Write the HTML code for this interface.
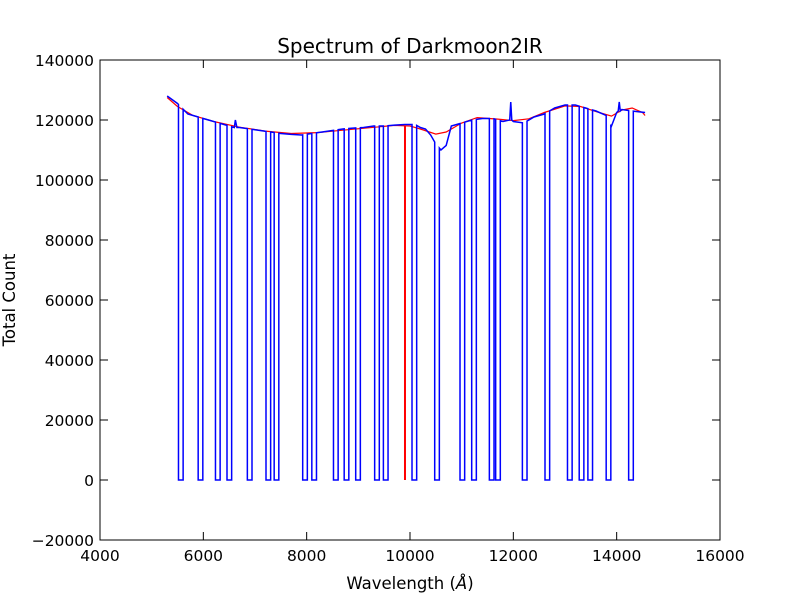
<!DOCTYPE html>
<html><head><meta charset="utf-8"><style>
body{margin:0;background:#fff;}
svg text{font-family:"DejaVu Sans","Liberation Sans",sans-serif;}
</style></head><body>
<svg id="chart" width="800" height="600" viewBox="0 0 800 600" xmlns="http://www.w3.org/2000/svg">
<rect width="800" height="600" fill="#fff"/>
<text x="410" y="53" font-size="20" text-anchor="middle">Spectrum of Darkmoon2IR</text>
<g id="plot"></g>
<g id="axes"></g>
<text x="410" y="589" font-size="16.5" text-anchor="middle">Wavelength (<tspan font-style="italic">Å</tspan>)</text>
<text transform="translate(15,300) rotate(-90)" font-size="16.5" text-anchor="middle">Total Count</text>
</svg>
<script>
const specWave=[5300,5500,5700,5900,6100,6300,6500,6600,6620,6650,6700,6900,7100,7300,7500,7700,7900,8100,8300,8500,8700,8900,9100,9300,9500,9700,9900,10100,10200,10300,10400,10500,10600,10700,10800,11000,11200,11400,11600,11800,11930,11950,11970,12000,12200,12400,12600,12800,13000,13200,13400,13600,13800,13900,14000,14030,14050,14070,14100,14300,14550];
const specFlux=[128000,125500,122000,121000,120000,119000,118000,117500,120000,117500,117500,117000,116500,116000,115500,115200,115000,115500,116000,116500,117000,117300,117500,118000,118000,118300,118500,118500,117500,117000,115000,112000,110000,111500,118000,119000,120000,120500,120500,119500,120000,126000,120000,119500,119000,121000,122000,124000,125000,125000,124000,123000,121500,118000,122500,123000,126000,123000,123500,123000,122500];
const fitWave=[5300,5500,5800,6200,6700,7200,7700,8200,8700,9200,9700,10000,10200,10500,10700,11000,11300,11700,12000,12300,12600,13000,13300,13600,13900,14100,14300,14500,14550];
const fitFlux=[127500,124500,121500,119500,117600,116300,115500,115800,116600,117400,118200,118000,117000,115300,116000,119000,120800,120300,119800,120400,122500,124700,124500,122800,121300,123300,124000,122500,121500];
const dipCenters=[5564,5945,6280,6503,6897,7258,7416,7968,8145,8564,8771,8994,9361,9530,10084,10523,11013,11239,11581,11703,12220,12658,13093,13320,13488,13842,14277];
const redLineWave=9903;
const xTicks=[4000,6000,8000,10000,12000,14000,16000];
const yTicks=[-20000,0,20000,40000,60000,80000,100000,120000,140000];
const DIPW=90;
const L=100,R=720,T=60,B=540;
const X=v=>L+(v-4000)/12000*(R-L);
const Y=v=>B-(v+20000)/160000*(B-T);
const NS="http://www.w3.org/2000/svg";
function interp(ws,fs,w){for(let i=0;i<ws.length-1;i++){if(w>=ws[i]&&w<=ws[i+1]){return fs[i]+(fs[i+1]-fs[i])*(w-ws[i])/(ws[i+1]-ws[i]);}}return fs[fs.length-1];}
const plot=document.getElementById('plot');
let events=[];
dipCenters.forEach(c=>{events.push(c-DIPW/2);events.push(c+DIPW/2);});
let allW=specWave.concat(events).sort((a,b)=>a-b);
let inDip=w=>dipCenters.some(c=>w>c-DIPW/2+0.01&&w<c+DIPW/2-0.01);
let d="";
allW.forEach((w,i)=>{
  const v=interp(specWave,specFlux,w);
  const isStart=dipCenters.some(c=>Math.abs(w-(c-DIPW/2))<0.001);
  const isEnd=dipCenters.some(c=>Math.abs(w-(c+DIPW/2))<0.001);
  if(inDip(w))return;
  if(isStart){d+=(d?"L":"M")+X(w).toFixed(2)+","+Y(v).toFixed(2)+"L"+X(w).toFixed(2)+","+Y(0).toFixed(2);}
  else if(isEnd){d+="L"+X(w).toFixed(2)+","+Y(0).toFixed(2)+"L"+X(w).toFixed(2)+","+Y(v).toFixed(2);}
  else{d+=(d?"L":"M")+X(w).toFixed(2)+","+Y(v).toFixed(2);}
});
let fd="";fitWave.forEach((w,i)=>{fd+=(i?"L":"M")+X(w).toFixed(2)+","+Y(fitFlux[i]).toFixed(2);});
const fit=document.createElementNS(NS,'path');
fit.setAttribute('d',fd);fit.setAttribute('fill','none');fit.setAttribute('stroke','#f00');fit.setAttribute('stroke-width','1.2');


plot.appendChild(fit);
const rl=document.createElementNS(NS,'line');
rl.setAttribute('x1',X(redLineWave));rl.setAttribute('x2',X(redLineWave));rl.setAttribute('y1',Y(0));rl.setAttribute('y2',Y(interp(fitWave,fitFlux,redLineWave)));
rl.setAttribute('stroke','#f00');rl.setAttribute('stroke-width','2');


plot.appendChild(rl);
const sp=document.createElementNS(NS,'path');
sp.setAttribute('d',d);sp.setAttribute('fill','none');sp.setAttribute('stroke','#00f');sp.setAttribute('stroke-width','1.5');


plot.appendChild(sp);
const ax=document.getElementById('axes');
const fr=document.createElementNS(NS,'rect');
fr.setAttribute('x',L);fr.setAttribute('y',T);fr.setAttribute('width',R-L);fr.setAttribute('height',B-T);fr.setAttribute('fill','none');fr.setAttribute('stroke','#000');


ax.appendChild(fr);
function ln(x1,y1,x2,y2){const l=document.createElementNS(NS,'line');l.setAttribute('x1',x1);l.setAttribute('y1',y1);l.setAttribute('x2',x2);l.setAttribute('y2',y2);l.setAttribute('stroke','#000');ax.appendChild(l);return l;}
xTicks.forEach(t=>{const x=X(t);
  const a=ln(x,B,x,B-8);
  const b=ln(x,T,x,T+8);
  const tx=document.createElementNS(NS,'text');tx.setAttribute('x',x);tx.setAttribute('y',B+21);tx.setAttribute('font-size','15.5');tx.setAttribute('text-anchor','middle');tx.textContent=t;
  
  
  ax.appendChild(tx);});
yTicks.forEach(t=>{const y=Y(t);
  const a=ln(L,y,L+8,y);
  const b=ln(R,y,R-8,y);
  const tx=document.createElementNS(NS,'text');tx.setAttribute('x',L-6);tx.setAttribute('y',y+6);tx.setAttribute('font-size','15.5');tx.setAttribute('text-anchor','end');tx.textContent=(t<0?"\u2212"+(-t):t);
  
  
  ax.appendChild(tx);});
</script>
</body></html>
